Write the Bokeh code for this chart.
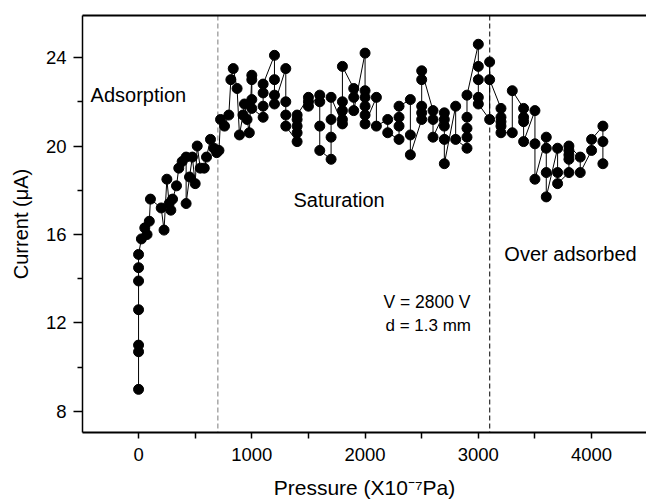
from bokeh.plotting import figure
from bokeh.models import (LinearAxis, FixedTicker, Span, Label, Range1d, ColumnDataSource)
from bokeh.embed import file_html
from bokeh.resources import INLINE

# ---- data ----
pressure = [
    0, 0, 0, 0, 0, 0, 0,
    25,
    55, 75, 95, 105,
    200, 225,
    250, 270, 285, 300,
    335, 355, 385,
    420, 420, 450, 475, 500, 518, 545,
    580, 600, 635, 665, 690, 710,
    724, 759, 797, 815, 836, 870, 891, 922, 935, 958, 978,
    1000, 1000, 1000, 1000,
    1100, 1100, 1100, 1100,
    1200, 1200, 1200, 1200,
    1300, 1300, 1300, 1300,
    1400, 1400, 1400, 1400, 1400,
    1500, 1500, 1500,
    1600, 1600, 1600, 1600,
    1700, 1700, 1700, 1700,
    1800, 1800, 1800, 1800, 1800,
    1900, 1900, 1900,
    2000, 2000, 2000, 2000, 2000, 2000,
    2100, 2100,
    2200, 2200,
    2300, 2300, 2300, 2300,
    2400, 2400, 2400,
    2500, 2500, 2500, 2500, 2500,
    2600, 2600, 2600,
    2700, 2700, 2700, 2700, 2700,
    2800, 2800,
    2900, 2900, 2900, 2900, 2900,
    3000, 3000, 3000, 3000, 3000,
    3100, 3100, 3100,
    3200, 3200, 3200, 3200, 3200,
    3300, 3300,
    3400, 3400, 3400, 3400,
    3500, 3500, 3500,
    3600, 3600, 3600, 3600,
    3700, 3700, 3700,
    3800, 3800, 3800, 3800, 3800,
    3900, 3900,
    4000, 4000,
    4100, 4100, 4100,
]
current = [
    9.0, 10.7, 11.0, 12.6, 13.9, 14.5, 15.1,
    15.8,
    16.3, 16.0, 16.6, 17.6,
    17.2, 16.2,
    18.5, 17.4, 17.1, 17.6,
    18.2, 19.0, 19.3,
    19.5, 17.4, 18.6, 19.5, 18.3, 20.0, 19.0,
    19.0, 19.5, 20.3, 19.9, 19.7, 19.8,
    21.2, 20.9, 21.4, 23.0, 23.5, 22.6, 20.5, 21.4, 21.9, 21.2, 20.6,
    23.2, 23.0, 22.1, 21.7,
    21.3, 21.8, 22.4, 22.8,
    24.1, 23.0, 22.3, 21.9,
    23.5, 22.0, 21.4, 20.9,
    20.2, 20.6, 20.9, 21.2, 21.4,
    22.2, 22.0, 21.8,
    22.3, 22.0, 20.9, 19.8,
    19.4, 20.4, 21.2, 22.2,
    21.0, 21.2, 21.6, 22.0, 23.6,
    22.6, 22.2, 21.6,
    24.2, 22.5, 22.2, 21.8, 21.4, 21.0,
    22.2, 20.9,
    21.2, 20.6,
    20.3, 20.9, 21.3, 21.8,
    22.1, 20.5, 19.6,
    21.2, 21.5, 21.8, 23.0, 23.4,
    21.6, 21.2, 20.4,
    21.5, 21.2, 20.9, 20.3, 19.2,
    21.8, 20.3,
    19.9, 20.4, 20.8, 21.3, 22.3,
    24.6, 23.6, 23.0, 22.2, 21.9,
    21.2, 23.8, 23.0,
    21.7, 21.3, 21.1, 20.9, 20.6,
    20.6, 22.5,
    21.7, 21.3, 21.1, 20.2,
    21.6, 20.1, 18.5,
    20.4, 19.9, 18.8, 17.7,
    19.9, 18.8, 18.3,
    18.8, 19.4, 19.6, 19.8, 20.0,
    19.5, 18.8,
    19.8, 20.3,
    20.9, 20.2, 19.2,
]
x_ticks = [0, 1000, 2000, 3000, 4000]
x_minor = [-500, 500, 1500, 2500, 3500, 4500]
y_ticks = [8, 12, 16, 20, 24]
y_minor = [10, 14, 18, 22]
region_bounds = [700, 3100]

FONT = "Liberation Sans"

src = ColumnDataSource(dict(x=pressure, y=current))

p = figure(width=646, height=503, output_backend="svg", toolbar_location=None,
           x_range=Range1d(-495, 4485), y_range=Range1d(7.05, 25.9),
           min_border_left=82, min_border_right=0, min_border_top=15,
           min_border_bottom=71, x_axis_location=None, y_axis_location=None)
p.outline_line_color = None
p.xgrid.visible = False
p.ygrid.visible = False
p.background_fill_color = "white"
p.border_fill_color = "white"

# dashed region boundaries
p.add_layout(Span(location=region_bounds[0], dimension="height", line_color="#9a9a9a",
                  line_dash="5 3", line_width=1.3, level="underlay"))
p.add_layout(Span(location=region_bounds[1], dimension="height", line_color="#3a3a3a",
                  line_dash="5 3", line_width=1.3, level="underlay"))

p.line("x", "y", source=src, line_color="black", line_width=1)
p.scatter("x", "y", source=src, size=10, fill_color="black", line_color="black")

xaxis = LinearAxis(ticker=FixedTicker(ticks=x_ticks, minor_ticks=x_minor),
                   axis_label="Pressure (X10\u207b\u2077Pa)")
xaxis.axis_line_width = 2
xaxis.major_tick_out = 6
xaxis.major_tick_in = 0
xaxis.minor_tick_out = 6
xaxis.minor_tick_in = 0
xaxis.major_tick_line_width = 1.5
xaxis.minor_tick_line_width = 1.5
xaxis.major_label_text_font = FONT
xaxis.major_label_text_font_size = "18.5px"
xaxis.major_label_text_color = "black"
xaxis.major_label_standoff = 9
xaxis.axis_label_text_font = FONT
xaxis.axis_label_text_font_size = "21px"
xaxis.axis_label_text_font_style = "normal"
xaxis.axis_label_text_color = "black"
xaxis.axis_label_standoff = 12
p.add_layout(xaxis, "below")

yaxis = LinearAxis(ticker=FixedTicker(ticks=y_ticks, minor_ticks=y_minor),
                   axis_label="Current (\u03bcA)")
yaxis.axis_line_width = 1.5
yaxis.major_tick_out = 9
yaxis.major_tick_in = 0
yaxis.minor_tick_out = 5
yaxis.minor_tick_in = 0
yaxis.major_tick_line_width = 1.5
yaxis.minor_tick_line_width = 1.5
yaxis.major_label_text_font = FONT
yaxis.major_label_text_font_size = "18.5px"
yaxis.major_label_text_color = "black"
yaxis.major_label_standoff = 7
yaxis.axis_label_text_font = FONT
yaxis.axis_label_text_font_size = "20px"
yaxis.axis_label_text_font_style = "normal"
yaxis.axis_label_text_color = "black"
yaxis.axis_label_standoff = 11
p.add_layout(yaxis, "left")

top = LinearAxis(ticker=FixedTicker(ticks=[]))
top.axis_line_width = 2
top.major_tick_out = 0
top.minor_tick_out = 0
top.major_label_text_font_size = "0px"
p.add_layout(top, "above")

annotations = [
    ("Adsorption", -424, 22.3, "20px"),
    ("Saturation", 1368, 17.55, "20px"),
    ("Over adsorbed", 3230, 15.1, "20px"),
    ("V = 2800 V", 2162, 12.93, "17.5px"),
    ("d = 1.3 mm", 2180, 11.9, "17px"),
]
for txt, ax, ay, fs in annotations:
    p.add_layout(Label(x=ax, y=ay, text=txt, text_font=FONT, text_font_size=fs,
                       text_baseline="middle", text_align="left", text_color="black"))

open("out.html", "w").write(file_html(p, INLINE))
